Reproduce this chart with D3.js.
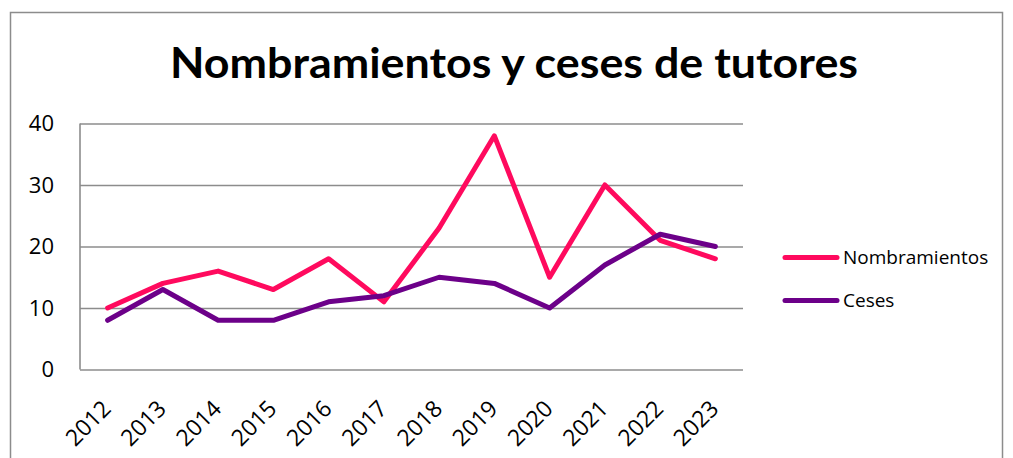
<!DOCTYPE html>
<html><head><meta charset="utf-8">
<script src="https://cdn.jsdelivr.net/npm/d3@7"></script>
<style>body{margin:0;background:#fff}svg{display:block}</style>
</head><body>
<svg id="c" width="1013" height="458"></svg>
<script>
const years = ["2012","2013","2014","2015","2016","2017","2018","2019","2020","2021","2022","2023"];
const nombramientos = [10,14,16,13,18,11,23,38,15,30,21,18];
const ceses = [8,13,8,8,11,12,15,14,10,17,22,20];
const yTicks = [0,10,20,30,40];
const seriesNames = ["Nombramientos","Ceses"];
const seriesColors = ["#FF0A5E","#6C0089"];

const svg = d3.select("#c");
const font = "'Open Sans', 'Noto Sans', sans-serif";
svg.append("rect").attr("x",10.5).attr("y",12.5).attr("width",992).attr("height",460)
  .attr("fill","#fff").attr("stroke","#8c8c8c").attr("stroke-width",1.5);

const L=80, R=743, T=123.5, B=369.5;
const x = d3.scaleBand().domain(years).range([L,R]);
const y = d3.scaleLinear().domain([0,40]).range([B,T]);

svg.append("text").attr("x",514).attr("y",78).attr("text-anchor","middle")
  .attr("font-family","Lato, 'Open Sans', sans-serif").attr("font-weight","bold").attr("font-size",42)
  .attr("textLength",688).attr("lengthAdjust","spacingAndGlyphs")
  .text("Nombramientos y ceses de tutores");

// grid
const gy = svg.append("g").attr("transform",`translate(${L},0)`)
  .call(d3.axisLeft(y).tickValues(yTicks).tickSize(-(R-L)).tickFormat(""));
gy.select(".domain").remove();
gy.selectAll("line").attr("stroke","#8c8c8c").attr("stroke-width",1.6);
svg.append("line").attr("x1",L).attr("x2",L).attr("y1",T).attr("y2",B).attr("stroke","#8c8c8c").attr("stroke-width",1.6);

svg.append("g").selectAll("text").data(yTicks).join("text")
  .attr("x",54).attr("y",d=>y(d)).attr("dy","0.35em").attr("text-anchor","end")
  .attr("font-family",font).attr("font-size",22).attr("fill","#000").text(d=>d);

const cx = d => x(d)+x.bandwidth()/2;
svg.append("g").selectAll("text").data(years).join("text")
  .attr("transform",d=>`translate(${cx(d)-1},${B+35}) rotate(-45)`)
  .attr("text-anchor","end").attr("dy","0.35em")
  .attr("font-family",font).attr("font-size",23).attr("fill","#000").text(d=>d);

const data=[nombramientos,ceses];
const line = d3.line().x((d,i)=>cx(years[i])).y(d=>y(d));
data.forEach((s,k)=>{
  svg.append("path").attr("d",line(s)).attr("fill","none").attr("stroke",seriesColors[k])
    .attr("stroke-width",5).attr("stroke-linejoin","round").attr("stroke-linecap","round");
});

const ly=[257.5,300.5];
seriesNames.forEach((n,k)=>{
  svg.append("line").attr("x1",785).attr("x2",837).attr("y1",ly[k]).attr("y2",ly[k])
    .attr("stroke",seriesColors[k]).attr("stroke-width",5).attr("stroke-linecap","round");
  svg.append("text").attr("x",843).attr("y",ly[k]).attr("dy","0.35em")
    .attr("font-family",font).attr("font-size",19).attr("fill","#000").text(n);
});
</script>
</body></html>
